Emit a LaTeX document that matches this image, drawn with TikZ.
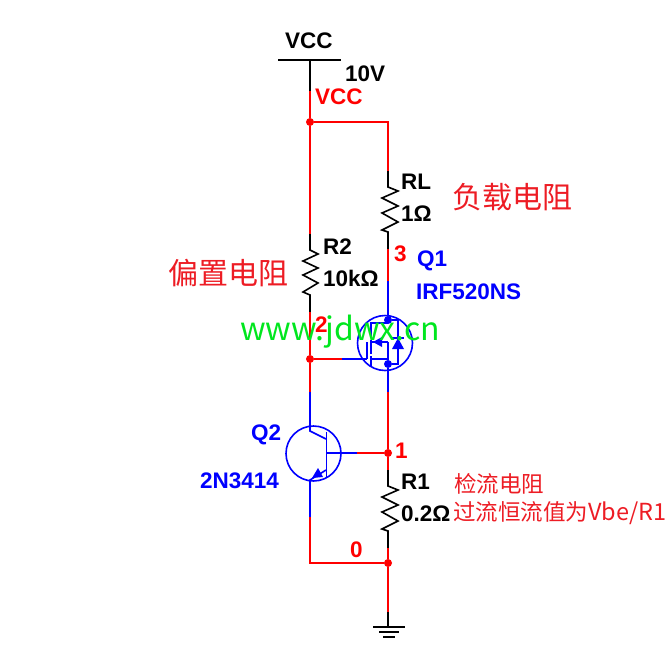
\documentclass[tikz,border=0pt]{standalone}
\usepackage{fontspec}
\setmainfont{Liberation Sans}
\newfontfamily\cjk{Noto Sans CJK SC}
\definecolor{wred}{RGB}{255,0,0}
\definecolor{wblue}{RGB}{0,0,255}
\definecolor{notered}{RGB}{237,28,36}
\definecolor{wgreen}{RGB}{0,230,30}
\tikzset{
  red wire/.style={draw=wred,line width=1.6pt},
  blue wire/.style={draw=wblue,line width=1.6pt},
  black wire/.style={draw=black,line width=1.6pt,line join=miter},
  dot/.style={circle,fill=wred,draw=none,inner sep=0pt,minimum size=8pt},
  bdot/.style={circle,fill=wblue,draw=none,inner sep=0pt,minimum size=8pt},
  lab/.style={font=\fontsize{22.5}{24}\bfseries\selectfont,inner sep=0pt,anchor=west,text=black},
  netlab/.style={font=\fontsize{22.5}{24}\bfseries\selectfont,inner sep=0pt,anchor=west,text=wred},
  partlab/.style={font=\fontsize{22.5}{24}\bfseries\selectfont,inner sep=0pt,anchor=west,text=wblue},
  note/.style={font=\cjk\fontsize{30}{32}\selectfont,inner sep=0pt,anchor=west,text=notered},
  smallnote/.style={font=\cjk\fontsize{22.5}{24}\selectfont,inner sep=0pt,anchor=west,text=notered},
}
\begin{document}
\begin{tikzpicture}[x=1pt,y=-1pt]
\useasboundingbox (0,0) rectangle (672,656);
% coordinates
\coordinate (vcctop) at (310,60);
\coordinate (vccred) at (310,91);
\node[dot] (jvcc) at (310,122) {};
\coordinate (jtr) at (388,122);
\coordinate (rlblk) at (388,171);
\coordinate (rlbot) at (388,249);
\coordinate (drainred) at (388,281);
\node[bdot] (dd) at (388,320) {};
\node[bdot] (ds) at (388,364) {};
\coordinate (srcblue) at (388,392);
\node[dot] (j1) at (388,453) {};
\coordinate (r1blk) at (388,470);
\coordinate (r1bot) at (388,548);
\node[dot] (j0) at (388,563) {};
\coordinate (gndtop) at (388,612);
\coordinate (gnd) at (388,627);
\coordinate (r2blk) at (310,234);
\coordinate (r2bot) at (310,312);
\node[dot] (j2) at (310,359) {};
\coordinate (gred) at (342,359);
\coordinate (gate) at (367,359);
\coordinate (cblue) at (310,392);
\coordinate (ered) at (310,517);
\coordinate (ecor) at (310,563);
\coordinate (bred) at (357,453);
% wires
\draw[black wire] (vcctop) -- (vccred);
\draw[black wire] (278,60) -- (341,60);
\draw[red wire] (vccred) -- (jvcc);
\draw[red wire] (jvcc) -- (jtr) -- (rlblk);
\draw[red wire] (jvcc) -- (r2blk);
% RL
\draw[black wire] (rlblk) -- (388,187) -- (398,191) -- (382,198) -- (398,206) -- (382,213) -- (398,222) -- (382,230) -- (388,232) -- (rlbot);
\draw[red wire] (rlbot) -- (drainred);
\draw[blue wire] (drainred) -- (dd);
% R2
\draw[black wire] (r2blk) -- (310,250) -- (318,254) -- (303,261) -- (318,268) -- (303,275) -- (318,283) -- (303,292) -- (310,295) -- (r2bot);
\draw[red wire] (r2bot) -- (j2);
\draw[red wire] (j2) -- (gred);
\draw[blue wire] (gred) -- (gate);
\draw[red wire] (j2) -- (cblue);
% MOSFET
\draw[blue wire] (385,343) circle (27.5);
\draw[blue wire] (gate) -- (367,342);
\draw[blue wire] (371,322) -- (371,338);
\draw[blue wire] (371,340) -- (371,354);
\draw[blue wire] (371,356) -- (371,366);
\draw[blue wire] (371,323) -- (388,323);
\draw[blue wire] (371,342) -- (388,342);
\draw[blue wire] (371,359) -- (388,359);
\draw[blue wire] (dd) -- (398,320) -- (398,364) -- (ds);
\draw[blue wire] (388,342) -- (ds);
\fill[wblue] (398,338) -- (392,349) -- (404,349) -- cycle;
\draw[blue wire] (392,338) -- (404,338);
\fill[wblue] (373,342) -- (382,337) -- (382,347) -- cycle;
\draw[blue wire] (ds) -- (srcblue);
\draw[red wire] (srcblue) -- (j1);
% Q2
\draw[blue wire] (313.5,453.5) circle (27.5);
\draw[blue wire] (cblue) -- (310,431) -- (326,439);
\draw[blue wire] (326.5,432) -- (326.5,477);
\draw[blue wire] (326.5,453) -- (bred);
\draw[red wire] (bred) -- (j1);
\draw[blue wire] (326,470) -- (310,480) -- (ered);
\fill[wblue] (312,478) -- (318,468) -- (323,477) -- cycle;
\draw[red wire] (ered) -- (ecor) -- (j0);
% R1
\draw[red wire] (j1) -- (r1blk);
\draw[black wire] (r1blk) -- (388,486) -- (398,490) -- (382,497) -- (398,505) -- (382,512) -- (398,521) -- (382,529) -- (388,531) -- (r1bot);
\draw[red wire] (r1bot) -- (j0);
\draw[red wire] (j0) -- (gndtop);
% ground
\draw[black wire] (gndtop) -- (gnd);
\draw[black wire] (373,627) -- (405,627);
\draw[black wire] (379,632) -- (399,632);
\draw[black wire] (383,637) -- (395,637);
% labels
\node[font=\cjk\fontsize{32}{34}\selectfont,inner sep=0pt,anchor=west,text=wgreen] (web) at (240,332) {www.jdwx.cn};
\node[lab] (tvcc) at (285,41) {VCC};
\node[lab] (t10v) at (345,74) {10V};
\node[netlab] (nvcc) at (315,97) {VCC};
\node[lab] (trl) at (401,182) {RL};
\node[lab] (trlv) at (401,214) {1Ω};
\node[netlab] (n3) at (394,254) {3};
\node[partlab] (tq1) at (417,261) {Q1};
\node[partlab] (tq1n) at (416,292) {IRF520NS};
\node[lab] (tr2) at (323,247) {R2};
\node[lab] (tr2v) at (323,278) {10kΩ};
\node[netlab] (n2) at (315,325) {2};
\node[partlab] (tq2) at (251,435) {Q2};
\node[partlab] (tq2n) at (200,481) {2N3414};
\node[netlab] (n1) at (395,451) {1};
\node[lab] (tr1) at (401,482) {R1};
\node[lab] (tr1v) at (401,514) {0.2Ω};
\node[netlab] (n0) at (350,550) {0};
\node[note] (t1) at (452,197) {负载电阻};
\node[note] (t2) at (168,273) {偏置电阻};
\node[smallnote] (t3) at (454,484) {检流电阻};
\node[smallnote] (t4) at (453,513) {过流恒流值为{\fontsize{23.5}{24}\selectfont Vbe/R1}};
\end{tikzpicture}
\end{document}
